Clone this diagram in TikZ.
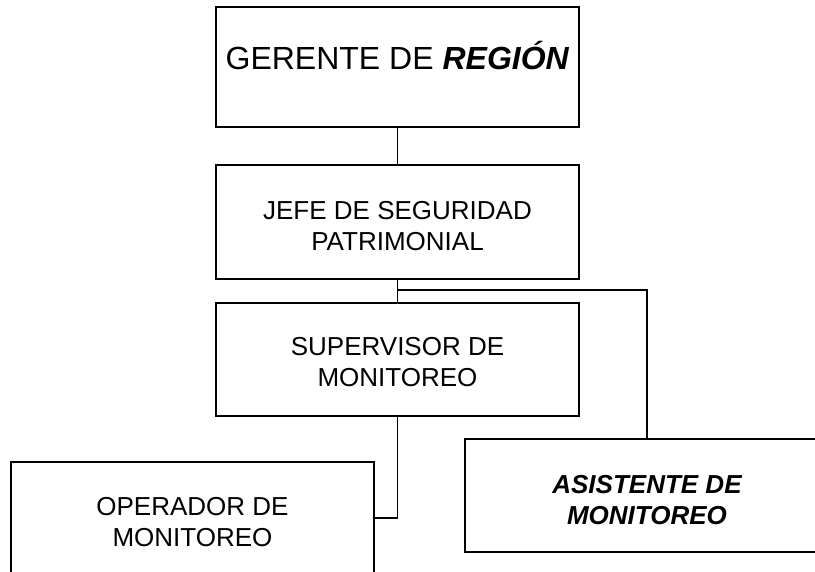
\documentclass[tikz,border=0pt]{standalone}
\usepackage{fontspec}
\setmainfont{Liberation Sans}
\begin{document}
\begin{tikzpicture}[x=1pt,y=-1pt,
  box/.style={draw=black, line width=2pt, fill=white, rectangle, inner sep=0pt},
  txt/.style={font=\fontsize{26}{31}\selectfont, align=center, inner sep=0pt},
  conn/.style={draw=black, line width=1.6pt}]
\useasboundingbox (0,0) rectangle (815,572);
\clip (0,0) rectangle (815,572);
\fill[white] (0,0) rectangle (815,572);
% boxes
\node[box, minimum width=363pt, minimum height=120pt] (g) at (397.5,67) {};
\node[box, minimum width=363pt, minimum height=114pt] (j) at (397.5,222) {};
\node[box, minimum width=363pt, minimum height=113pt] (s) at (397.5,359.5) {};
\node[box, minimum width=363pt, minimum height=112pt] (o) at (192.5,518) {};
\node[box, minimum width=364pt, minimum height=113pt] (a) at (647,495.5) {};
% texts
\node[inner sep=0pt, font=\fontsize{32}{38}\selectfont] (gt) at (397.5,56) {GERENTE DE \textbf{\textit{REGIÓN}}};
\node[txt] (jt) at (397.5,226) {JEFE DE SEGURIDAD\\PATRIMONIAL};
\node[txt] (st) at (397.5,362) {SUPERVISOR DE\\MONITOREO};
\node[txt] (ot) at (192.5,522) {OPERADOR DE\\MONITOREO};
\node[txt, font=\fontsize{26}{31}\selectfont\bfseries\itshape] (at) at (647,500) {ASISTENTE DE\\MONITOREO};
% connectors
\coordinate (br) at (398,290);
\draw[conn] (g.south) -- (j.north);
\draw[conn] (j.south) -- (s.north);
\draw[conn] (br) -| (a.north);
\draw[conn] (s.south) |- (o.east);
\end{tikzpicture}
\end{document}
